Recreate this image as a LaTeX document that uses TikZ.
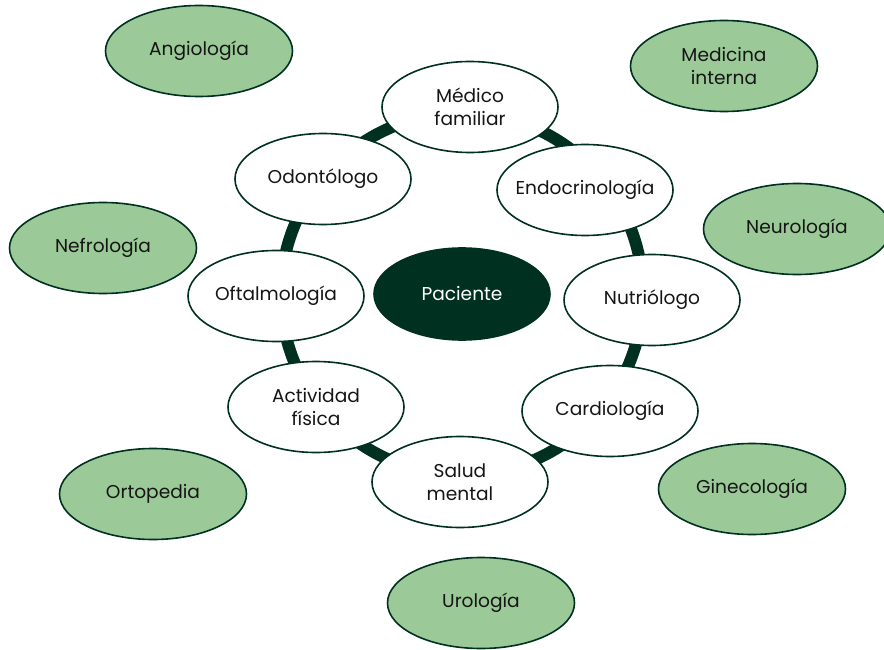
\documentclass[tikz,border=0pt]{standalone}
\usepackage{fontspec}
\setmainfont{Poppins}
\usetikzlibrary{shapes.geometric}
\definecolor{darkgreen}{HTML}{00301F}
\definecolor{softgreen}{HTML}{9BCA98}
\definecolor{txt}{HTML}{151515}
\tikzset{
  base/.style={ellipse, draw=darkgreen, line width=1.6pt, inner xsep=-40pt, inner ysep=-4pt,
    align=center, font=\fontsize{18.6}{23}\selectfont, text=txt},
  inner/.style={base, fill=white, minimum width=176pt, minimum height=91pt},
  outer/.style={base, fill=softgreen, minimum width=187pt, minimum height=91pt},
  center/.style={base, fill=darkgreen, text=white, minimum width=176pt, minimum height=92pt},
  ring/.style={draw=darkgreen, line width=12pt}
}
\begin{document}
\begin{tikzpicture}[x=1pt,y=-1pt]
\useasboundingbox (0,0) rectangle (884,650);
\node[center] (pac) at (462,294) {Paciente};
\draw[ring] (pac.center) circle[radius=181];
\node[inner] (med) at (470,107) {Médico\\familiar};
\node[inner] (endo) at (585,190) {Endocrinología};
\node[inner] (nut) at (652,300) {Nutriólogo};
\node[inner] (car) at (610,411) {Cardiología};
\node[inner] (sal) at (460,482) {Salud\\mental};
\node[inner] (act) at (316,407) {Actividad\\física};
\node[inner] (oft) at (276,296) {Oftalmología};
\node[inner] (odo) at (323,179) {Odontólogo};
\node[outer] (ang) at (199,51) {Angiología};
\node[outer] (mi) at (724,66) {Medicina\\interna};
\node[outer] (nef) at (103,248) {Nefrología};
\node[outer] (neu) at (797,229) {Neurología};
\node[outer] (ort) at (153,494) {Ortopedia};
\node[outer] (gin) at (752,489) {Ginecología};
\node[outer] (uro) at (481,603) {Urología};
\end{tikzpicture}
\end{document}
